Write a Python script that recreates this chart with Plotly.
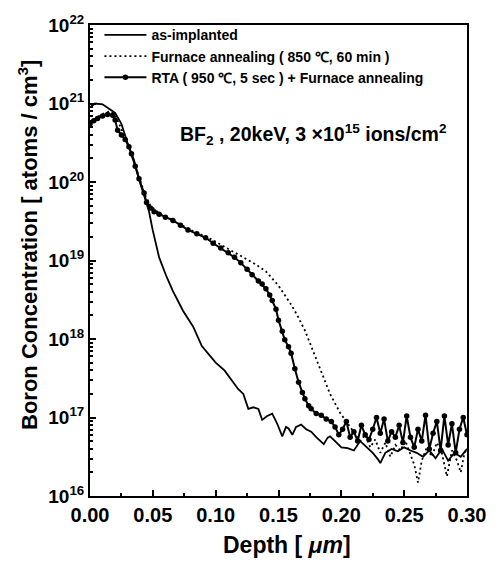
import numpy as np
import plotly.graph_objects as go

# Boron depth profiles (SIMS), BF2 implant 20 keV, 3e15 ions/cm2
# Depth in micrometres, concentration stored as log10(atoms/cm^3)

asimp_depth = [0.000, 0.004, 0.010, 0.016, 0.020, 0.025, 0.030, 0.035, 0.040, 0.044,
               0.047, 0.050, 0.055, 0.061, 0.066, 0.074, 0.082, 0.089, 0.095, 0.100,
               0.107, 0.113, 0.118, 0.122, 0.126, 0.130, 0.134, 0.137, 0.141, 0.145,
               0.149, 0.153, 0.156, 0.158, 0.161, 0.164, 0.168, 0.172, 0.176, 0.180,
               0.183, 0.186, 0.189, 0.191, 0.195, 0.200, 0.205, 0.210, 0.215, 0.220,
               0.225, 0.229, 0.231, 0.235, 0.240, 0.245, 0.250, 0.255, 0.260, 0.265,
               0.270, 0.275, 0.280, 0.285, 0.290, 0.295, 0.300]
asimp_log = [20.95, 21.00, 20.99, 20.93, 20.88, 20.74, 20.49, 20.28, 19.98, 19.78,
             19.62, 19.38, 19.04, 18.79, 18.61, 18.36, 18.16, 17.91, 17.80, 17.70,
             17.60, 17.47, 17.36, 17.30, 17.11, 17.13, 17.11, 16.97, 17.02, 17.05,
             16.92, 16.76, 16.88, 16.86, 16.78, 16.88, 16.91, 16.85, 16.82, 16.75,
             16.70, 16.66, 16.74, 16.76, 16.70, 16.62, 16.61, 16.58, 16.70, 16.62,
             16.55, 16.47, 16.42, 16.55, 16.60, 16.57, 16.62, 16.58, 16.55, 16.50,
             16.58, 16.48, 16.60, 16.45, 16.55, 16.50, 16.60]

furn_depth = [0.000, 0.004, 0.008, 0.012, 0.016, 0.020, 0.024, 0.028, 0.032, 0.036,
              0.040, 0.044, 0.048, 0.055, 0.062, 0.070, 0.078, 0.085, 0.092, 0.100,
              0.108, 0.116, 0.124, 0.132, 0.140, 0.146, 0.150, 0.155, 0.160, 0.165,
              0.171, 0.175, 0.179, 0.183, 0.187, 0.191, 0.195, 0.199, 0.203, 0.207,
              0.211, 0.215, 0.219, 0.223, 0.227, 0.231, 0.235, 0.239, 0.243, 0.247,
              0.251, 0.255, 0.258, 0.261, 0.264, 0.268, 0.272, 0.276, 0.280, 0.284,
              0.288, 0.292, 0.295, 0.298, 0.300]
furn_log = [20.76, 20.81, 20.85, 20.88, 20.90, 20.86, 20.72, 20.56, 20.40, 20.22,
            20.02, 19.83, 19.70, 19.60, 19.54, 19.47, 19.40, 19.35, 19.31, 19.24,
            19.16, 19.09, 19.02, 18.95, 18.86, 18.76, 18.68, 18.56, 18.44, 18.30,
            18.11, 17.95, 17.79, 17.62, 17.45, 17.30, 17.18, 17.06, 16.97, 16.88,
            16.80, 16.70, 16.78, 16.62, 16.72, 16.55, 16.68, 16.50, 16.65, 16.58,
            16.70, 16.52, 16.40, 16.17, 16.45, 16.62, 16.50, 16.68, 16.55, 16.25,
            16.58, 16.45, 16.30, 16.55, 16.60]

rta_depth = [0.000, 0.003, 0.006, 0.010, 0.014, 0.018, 0.020, 0.022, 0.025, 0.028,
             0.031, 0.033, 0.036, 0.039, 0.043, 0.045, 0.048, 0.051, 0.055, 0.060,
             0.066, 0.072, 0.078, 0.085, 0.092, 0.098, 0.104, 0.110, 0.115, 0.120,
             0.125, 0.129, 0.134, 0.137, 0.140, 0.143, 0.145, 0.148, 0.150, 0.153,
             0.155, 0.158, 0.160, 0.163, 0.166, 0.169, 0.171, 0.174, 0.176, 0.180,
             0.184, 0.188, 0.192, 0.195, 0.198, 0.201, 0.204, 0.207, 0.210, 0.213,
             0.216, 0.219, 0.222, 0.225, 0.228, 0.231, 0.234, 0.237, 0.240, 0.243,
             0.246, 0.249, 0.252, 0.255, 0.258, 0.261, 0.264, 0.267, 0.270, 0.273,
             0.276, 0.279, 0.282, 0.285, 0.288, 0.291, 0.294, 0.297, 0.300]
rta_log = [20.74, 20.78, 20.81, 20.84, 20.86, 20.85, 20.79, 20.66, 20.60, 20.54,
           20.45, 20.36, 20.20, 20.04, 19.86, 19.74, 19.67, 19.62, 19.59, 19.55,
           19.51, 19.45, 19.39, 19.34, 19.29, 19.22, 19.16, 19.10, 19.04, 18.97,
           18.89, 18.82, 18.74, 18.70, 18.64, 18.56, 18.49, 18.38, 18.24, 18.10,
           17.99, 17.90, 17.82, 17.62, 17.45, 17.32, 17.24, 17.15, 17.11, 17.05,
           17.03, 16.98, 16.95, 16.88, 16.78, 16.85, 16.95, 16.75, 16.82, 16.70,
           16.90, 16.78, 16.72, 16.85, 17.00, 16.80, 16.98, 16.70, 16.82, 16.75,
           16.90, 16.68, 17.02, 16.75, 16.62, 16.85, 16.70, 17.03, 16.60, 16.80,
           16.95, 16.58, 17.02, 16.65, 16.92, 16.55, 16.85, 17.00, 16.78]

y_decades = [16, 17, 18, 19, 20, 21, 22]
x_ticks = [0.00, 0.05, 0.10, 0.15, 0.20, 0.25, 0.30]

FONT = "Liberation Sans"
BLACK = "#000000"

fig = go.Figure()

fig.add_trace(go.Scatter(
    x=asimp_depth, y=10.0 ** np.array(asimp_log),
    mode="lines", name="as-implanted",
    line=dict(color=BLACK, width=1.8),
))
fig.add_trace(go.Scatter(
    x=furn_depth, y=10.0 ** np.array(furn_log),
    mode="lines", name="Furnace annealing ( 850 ℃, 60 min )",
    line=dict(color=BLACK, width=1.8, dash="2px,3px"),
))
fig.add_trace(go.Scatter(
    x=rta_depth, y=10.0 ** np.array(rta_log),
    mode="lines+markers", name="RTA ( 950 ℃, 5 sec ) + Furnace annealing",
    line=dict(color=BLACK, width=2),
    marker=dict(color=BLACK, size=5.5, symbol="circle"),
))

# implant condition label inside the axes
fig.add_annotation(
    x=0.1776, y=0.80, xref="x", yref="paper",
    text="BF<sub>2</sub> , 20keV, 3 ×10<sup>15</sup> ions/cm<sup>2</sup>",
    showarrow=False, font=dict(family=FONT, size=19.5, color=BLACK, weight="bold"),
)

# axis titles
fig.add_annotation(
    x=0, y=0.533, xref="paper", yref="paper", xanchor="center", yanchor="middle",
    xshift=-62, textangle=-90, showarrow=False,
    text="Boron Concentration [ atoms / cm<sup>3</sup>]",
    font=dict(family=FONT, size=22, color=BLACK, weight="bold"),
)
fig.add_annotation(
    x=0.5, y=0, xref="paper", yref="paper", xanchor="center", yanchor="middle",
    yshift=-49, xshift=8, showarrow=False,
    text="Depth [ <i>μm</i>]",
    font=dict(family=FONT, size=23, color=BLACK, weight="bold"),
)

fig.update_layout(
    width=498, height=562,
    margin=dict(l=90, r=28, t=16, b=66),
    paper_bgcolor="white", plot_bgcolor="white",
    font=dict(family=FONT, color=BLACK),
    showlegend=True,
    legend=dict(
        x=0.025, y=1.012, xanchor="left", yanchor="top",
        bgcolor="rgba(0,0,0,0)", borderwidth=0,
        font=dict(family=FONT, size=14, color=BLACK, weight="bold"),
        itemwidth=42, tracegroupgap=0,
    ),
    xaxis=dict(
        range=[0, 0.30], tickvals=x_ticks,
        ticktext=[f"{v:.2f}" for v in x_ticks],
        ticks="inside", ticklen=6, tickwidth=2, tickcolor=BLACK,
        minor=dict(ticks="inside", ticklen=3, tickwidth=1.5, dtick=0.025, tick0=0, tickcolor=BLACK),
        showline=True, linewidth=2, linecolor=BLACK, mirror=True,
        showgrid=False, zeroline=False,
        tickfont=dict(family=FONT, size=20, color=BLACK, weight="bold"),
    ),
    yaxis=dict(
        type="log", range=[16, 22],
        tickvals=[10.0 ** d for d in y_decades],
        ticktext=[f"10<sup>{d}</sup>" for d in y_decades],
        ticks="inside", ticklen=6, tickwidth=2, tickcolor=BLACK,
        minor=dict(ticks="inside", ticklen=3, tickwidth=1.5, dtick="D1", tickcolor=BLACK),
        showline=True, linewidth=2, linecolor=BLACK, mirror=True,
        showgrid=False, zeroline=False,
        tickfont=dict(family=FONT, size=19, color=BLACK, weight="bold"),
    ),
)

fig.write_html("out.html")
